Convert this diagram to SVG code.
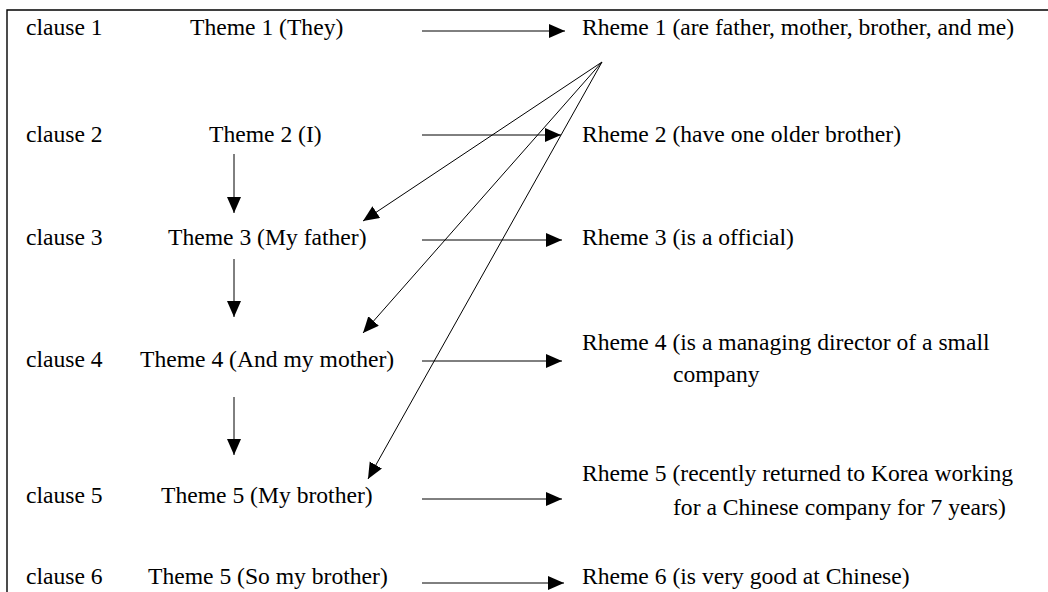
<svg xmlns="http://www.w3.org/2000/svg" width="1048" height="592" viewBox="0 0 1048 592">
<style>
text{font-family:"Liberation Serif","Times New Roman",serif;font-size:23.6px;fill:#000}
.ln{stroke:#000;stroke-width:1;fill:none}
.frame{stroke:#000;stroke-width:1.4;fill:none}
</style>
<defs>
<marker id="ah" markerUnits="userSpaceOnUse" markerWidth="18" markerHeight="16" refX="16" refY="7" orient="auto">
<path d="M0,0 L16,7 L0,14 Z" fill="#000"/>
</marker>
</defs>
<rect width="1048" height="592" fill="#fff"/>
<path class="frame" d="M7,592 V10 H1048"/>
<g id="clauses">
<text x="26" y="35">clause 1</text>
<text x="26" y="142">clause 2</text>
<text x="26" y="245">clause 3</text>
<text x="26" y="367">clause 4</text>
<text x="26" y="503">clause 5</text>
<text x="26" y="584">clause 6</text>
</g>
<g id="theme1"><text x="190" y="35">Theme 1 (They)</text></g>
<g id="theme2"><text x="209" y="142">Theme 2 (I)</text></g>
<g id="theme3"><text x="168" y="245">Theme 3 (My father)</text></g>
<g id="theme4"><text x="140" y="367">Theme 4 (And my mother)</text></g>
<g id="theme5"><text x="161" y="503">Theme 5 (My brother)</text></g>
<g id="theme6"><text x="148" y="584">Theme 5 (So my brother)</text></g>
<g id="rheme1"><text x="582" y="35">Rheme 1 (are father, mother, brother, and me)</text></g>
<g id="rheme2"><text x="582" y="142">Rheme 2 (have one older brother)</text></g>
<g id="rheme3"><text x="582" y="245">Rheme 3 (is a official)</text></g>
<g id="rheme4"><text x="582" y="350">Rheme 4 (is a managing director of a small</text><text x="673" y="382">company</text></g>
<g id="rheme5"><text x="582" y="481">Rheme 5 (recently returned to Korea working</text><text x="673" y="515">for a Chinese company for 7 years)</text></g>
<g id="rheme6"><text x="582" y="584">Rheme 6 (is very good at Chinese)</text></g>
<g id="connectors" class="ln" marker-end="url(#ah)">
<line x1="422" y1="31" x2="565" y2="31"/>
<line x1="422" y1="135" x2="561" y2="135"/>
<line x1="422" y1="240" x2="562" y2="240"/>
<line x1="422" y1="361" x2="562" y2="361"/>
<line x1="422" y1="499" x2="562" y2="499"/>
<line x1="422" y1="583" x2="564" y2="583"/>
<line x1="234" y1="154" x2="234" y2="213"/>
<line x1="234" y1="259" x2="234" y2="317"/>
<line x1="234" y1="397" x2="234" y2="455"/>
<line x1="602" y1="62" x2="363" y2="221"/>
<line x1="602" y1="62" x2="363" y2="333"/>
<line x1="602" y1="62" x2="368" y2="479"/>
</g>
</svg>
